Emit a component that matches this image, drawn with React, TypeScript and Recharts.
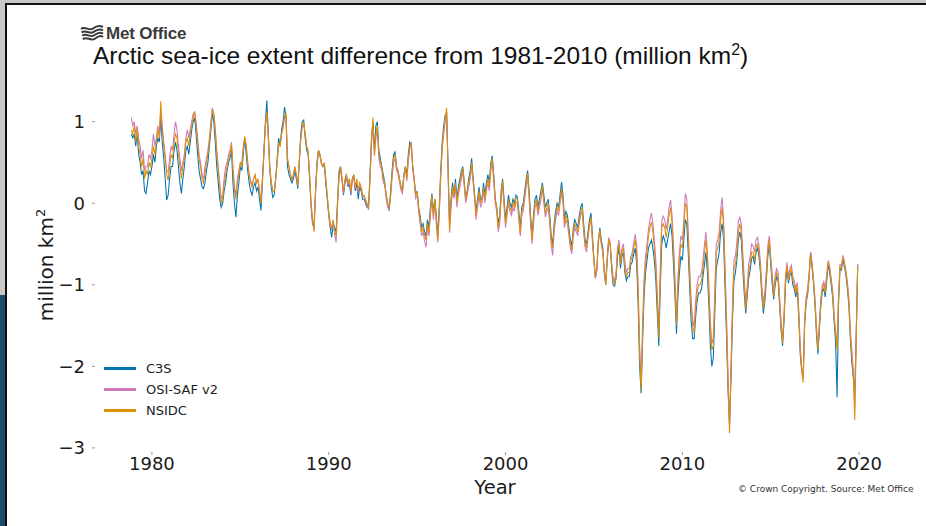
import React from 'react';
import { LineChart, Line, XAxis, YAxis } from 'recharts';

const seriesNames = ['C3S', 'OSI-SAF v2', 'NSIDC'];
const seriesKeys = ['c3s', 'osisaf', 'nsidc'];
const seriesColors = ['#0173b2', '#cc78bc', '#de8f05'];
const yearTicks = [1980, 1990, 2000, 2010, 2020];
const valueTicks = [-3, -2, -1, 0, 1];

// first month of the records: November 1978
const START_YEAR = 1978;
const START_MONTH = 10;

// monthly extent anomaly, million km2, one row per year (1978 row = Nov, Dec)
const c3s = [
  0.85, 0.80,
  0.85, 0.70, 0.85, 0.60, 0.50, 0.35, 0.40, 0.15, 0.12, 0.25, 0.40, 0.35,
  0.45, 0.60, 0.50, 0.70, 0.80, 0.75, 1.05, 0.75, 0.55, 0.30, 0.04, 0.10,
  0.30, 0.45, 0.45, 0.65, 0.75, 0.65, 0.45, 0.25, 0.12, 0.30, 0.45, 0.65,
  0.70, 0.60, 0.75, 0.90, 1.00, 1.05, 0.85, 0.60, 0.40, 0.30, 0.20, 0.18,
  0.25, 0.40, 0.50, 0.70, 0.90, 1.10, 1.00, 0.75, 0.45, 0.25, 0.05, -0.05,
  0.00, 0.15, 0.25, 0.40, 0.50, 0.55, 0.65, 0.25, 0.00, -0.17, 0.10, 0.25,
  0.45, 0.40, 0.60, 0.80, 0.60, 0.40, 0.25, 0.15, 0.10, 0.20, 0.25, 0.15,
  0.20, 0.05, -0.09, 0.25, 0.65, 1.00, 1.26, 0.85, 0.40, 0.20, 0.07, 0.10,
  0.30, 0.55, 0.80, 0.70, 0.90, 1.00, 1.18, 1.05, 0.45, 0.35, 0.30, 0.25,
  0.30, 0.40, 0.30, 0.18, 0.50, 0.85, 1.00, 1.02, 0.80, 0.65, 0.60, 0.30,
  -0.05, -0.25, -0.30, 0.15, 0.50, 0.65, 0.60, 0.50, 0.45, 0.45, 0.25, 0.05,
  -0.15, -0.30, -0.42, -0.25, -0.30, -0.35, 0.05, 0.40, 0.45, 0.30, 0.10, 0.25,
  0.35, 0.20, 0.25, 0.10, 0.30, 0.35, 0.15, 0.25, 0.05, 0.20, 0.15, 0.05,
  0.05, 0.00, -0.05, -0.05, 0.35, 0.80, 1.00, 0.65, 0.95, 1.00, 0.65, 0.55,
  0.45, 0.35, 0.25, 0.10, 0.00, -0.09, 0.15, 0.40, 0.60, 0.63, 0.45, 0.40,
  0.30, 0.20, 0.15, 0.35, 0.45, 0.35, 0.60, 0.75, 0.72, 0.45, 0.30, 0.10,
  0.15, -0.05, -0.15, -0.30, -0.25, -0.35, -0.40, -0.20, -0.30, -0.05, 0.12, -0.10,
  0.05, -0.15, -0.40, -0.05, 0.40, 0.75, 0.95, 1.08, 1.10, 0.45, -0.25, 0.05,
  0.25, 0.10, 0.30, 0.05, 0.20, 0.30, 0.40, 0.45, 0.25, 0.05, 0.15, 0.30,
  0.40, 0.55, 0.30, 0.10, -0.10, 0.05, 0.20, 0.05, 0.05, 0.25, 0.10, 0.25,
  0.35, 0.25, 0.50, 0.58, 0.35, 0.05, -0.05, -0.25, -0.15, 0.15, 0.30, 0.05,
  -0.20, -0.05, 0.10, 0.00, -0.05, 0.05, 0.00, 0.10, 0.08, -0.10, -0.30, -0.05,
  0.00, 0.15, 0.30, 0.40, 0.15, -0.15, -0.40, -0.15, 0.05, 0.10, -0.05, 0.05,
  0.15, 0.25, 0.10, -0.05, 0.00, 0.05, -0.15, -0.40, -0.50, -0.25, -0.10, 0.00,
  -0.05, 0.10, 0.26, 0.10, -0.20, -0.10, -0.15, -0.30, -0.45, -0.52, -0.30, -0.20,
  -0.25, -0.30, -0.15, -0.05, 0.00, -0.25, -0.45, -0.50, -0.35, -0.20, -0.12, -0.40,
  -0.70, -0.92, -0.80, -0.45, -0.30, -0.45, -0.55, -0.85, -1.00, -0.70, -0.45, -0.50,
  -0.80, -1.00, -1.02, -0.92, -0.65, -0.55, -0.80, -0.65, -0.60, -0.85, -0.95, -0.90,
  -0.90, -0.75, -0.72, -0.62, -0.55, -0.75, -1.25, -2.00, -2.33, -1.70, -1.15, -0.85,
  -0.70, -0.55, -0.50, -0.45, -0.55, -0.70, -0.95, -1.35, -1.75, -1.05, -0.50, -0.40,
  -0.45, -0.55, -0.45, -0.35, -0.25, -0.40, -0.75, -1.15, -1.60, -1.15, -0.85, -0.65,
  -0.70, -0.45, -0.20, -0.25, -0.60, -1.05, -1.45, -1.66, -1.66, -1.40, -1.20, -1.10,
  -1.10, -1.05, -0.90, -0.75, -0.60, -0.85, -1.25, -1.75, -2.00, -1.90, -1.35, -0.80,
  -0.70, -0.60, -0.35, -0.25, -0.45, -1.05, -1.65, -2.30, -2.72, -2.15, -1.45, -0.95,
  -0.85, -0.70, -0.45, -0.35, -0.45, -0.80, -1.10, -1.35, -1.15, -0.92, -0.82, -0.68,
  -0.65, -0.75, -0.60, -0.55, -0.65, -0.85, -1.15, -1.35, -1.20, -0.95, -0.65, -0.50,
  -0.75, -1.00, -1.18, -1.00, -0.90, -0.95, -1.25, -1.55, -1.75, -1.45, -1.00, -0.80,
  -0.98, -0.88, -0.85, -1.00, -1.05, -1.15, -1.05, -1.40, -1.85, -2.05, -2.15, -1.50,
  -1.22, -1.12, -0.92, -0.60, -0.78, -0.98, -1.25, -1.60, -1.85, -1.55, -1.25, -1.08,
  -1.05, -1.15, -0.95, -0.75, -0.85, -1.00, -1.15, -1.45, -1.70, -2.38, -1.25, -0.80,
  -0.82, -0.68, -0.78, -0.88, -1.05, -1.25, -1.65, -1.95, -2.13, -2.30, -1.60, -0.75,
];

const osisaf = [
  1.05, 0.95,
  1.00, 0.85, 0.95, 0.80, 0.70, 0.55, 0.65, 0.40, 0.45, 0.45, 0.60, 0.55,
  0.65, 0.85, 0.70, 0.80, 0.95, 0.85, 1.15, 0.95, 0.75, 0.60, 0.40, 0.38,
  0.55, 0.70, 0.65, 0.85, 1.00, 0.90, 0.70, 0.55, 0.40, 0.50, 0.60, 0.80,
  0.90, 0.80, 0.90, 1.00, 1.10, 1.12, 1.00, 0.80, 0.60, 0.50, 0.35, 0.30,
  0.45, 0.55, 0.65, 0.80, 1.00, 1.17, 1.10, 0.90, 0.65, 0.45, 0.25, 0.05,
  0.10, 0.30, 0.45, 0.50, 0.60, 0.65, 0.75, 0.45, 0.20, 0.10, 0.30, 0.40,
  0.50, 0.50, 0.70, 0.80, 0.70, 0.50, 0.35, 0.28, 0.22, 0.30, 0.35, 0.25,
  0.28, 0.15, 0.02, 0.30, 0.60, 0.95, 1.10, 0.80, 0.45, 0.25, 0.15, 0.15,
  0.30, 0.50, 0.72, 0.70, 0.85, 0.92, 1.05, 1.05, 0.55, 0.45, 0.35, 0.28,
  0.35, 0.45, 0.35, 0.22, 0.50, 0.78, 0.92, 0.98, 0.85, 0.70, 0.62, 0.35,
  0.00, -0.20, -0.33, 0.10, 0.45, 0.62, 0.58, 0.48, 0.45, 0.48, 0.30, 0.08,
  -0.12, -0.28, -0.32, -0.22, -0.38, -0.48, -0.02, 0.32, 0.42, 0.28, 0.12, 0.28,
  0.32, 0.22, 0.28, 0.12, 0.28, 0.32, 0.18, 0.28, 0.12, 0.22, 0.18, 0.08,
  0.08, 0.02, -0.02, -0.08, 0.28, 0.72, 1.00, 0.58, 0.80, 0.90, 0.55, 0.45,
  0.40, 0.25, 0.22, 0.05, -0.05, -0.08, 0.08, 0.32, 0.50, 0.55, 0.40, 0.36,
  0.26, 0.16, 0.12, 0.32, 0.42, 0.27, 0.52, 0.66, 0.72, 0.42, 0.26, 0.06,
  0.10, -0.10, -0.25, -0.40, -0.35, -0.46, -0.54, -0.30, -0.40, -0.15, 0.06, -0.20,
  0.00, -0.25, -0.48, -0.15, 0.30, 0.66, 0.85, 1.00, 1.12, 0.35, -0.36, -0.05,
  0.15, 0.06, 0.20, -0.05, 0.10, 0.20, 0.30, 0.38, 0.20, 0.00, 0.10, 0.20,
  0.30, 0.45, 0.25, 0.05, -0.20, -0.05, 0.10, -0.05, 0.00, 0.15, 0.00, 0.15,
  0.25, 0.15, 0.40, 0.50, 0.25, 0.00, -0.10, -0.35, -0.25, 0.05, 0.22, -0.05,
  -0.30, -0.15, 0.00, -0.10, -0.15, -0.05, -0.10, 0.02, 0.00, -0.20, -0.40, -0.15,
  -0.10, 0.05, 0.20, 0.32, 0.05, -0.25, -0.50, -0.25, -0.05, 0.00, -0.15, -0.05,
  0.05, 0.18, 0.00, -0.17, -0.10, -0.05, -0.25, -0.52, -0.64, -0.35, -0.20, -0.10,
  -0.15, 0.00, 0.13, 0.00, -0.30, -0.20, -0.25, -0.40, -0.55, -0.62, -0.40, -0.30,
  -0.35, -0.40, -0.25, -0.15, -0.10, -0.35, -0.55, -0.60, -0.42, -0.28, -0.20, -0.48,
  -0.72, -0.92, -0.82, -0.48, -0.35, -0.50, -0.60, -0.82, -0.95, -0.65, -0.42, -0.48,
  -0.72, -0.90, -0.95, -0.85, -0.55, -0.45, -0.70, -0.55, -0.50, -0.72, -0.85, -0.80,
  -0.80, -0.65, -0.60, -0.48, -0.38, -0.52, -1.00, -1.75, -2.20, -1.50, -0.92, -0.65,
  -0.50, -0.32, -0.20, -0.12, -0.25, -0.45, -0.70, -1.10, -1.55, -0.80, -0.22, -0.16,
  -0.20, -0.32, -0.20, -0.05, 0.04, -0.15, -0.50, -0.92, -1.42, -0.90, -0.60, -0.40,
  -0.45, -0.20, 0.12, 0.05, -0.35, -0.80, -1.20, -1.42, -1.52, -1.20, -1.00, -0.90,
  -0.90, -0.85, -0.70, -0.50, -0.35, -0.60, -1.00, -1.45, -1.72, -1.65, -1.10, -0.50,
  -0.45, -0.35, -0.08, 0.07, -0.20, -0.80, -1.40, -2.10, -2.72, -2.00, -1.25, -0.70,
  -0.65, -0.48, -0.22, -0.17, -0.25, -0.60, -0.92, -1.22, -1.02, -0.75, -0.65, -0.50,
  -0.52, -0.60, -0.45, -0.42, -0.52, -0.72, -1.02, -1.22, -1.08, -0.82, -0.52, -0.40,
  -0.65, -0.88, -1.08, -0.88, -0.80, -0.85, -1.15, -1.45, -1.68, -1.35, -0.90, -0.72,
  -0.90, -0.80, -0.76, -0.90, -0.95, -1.05, -0.97, -1.30, -1.75, -2.00, -2.15, -1.40,
  -1.15, -1.05, -0.86, -0.60, -0.72, -0.92, -1.16, -1.50, -1.76, -1.46, -1.16, -1.00,
  -0.96, -1.05, -0.86, -0.70, -0.78, -0.92, -1.06, -1.36, -1.56, -1.74, -1.12, -0.75,
  -0.76, -0.64, -0.72, -0.82, -0.96, -1.16, -1.55, -1.80, -2.05, -2.50, -1.62, -0.75,
];

const nsidc = [
  0.90, 0.85,
  0.95, 0.75, 0.90, 0.70, 0.60, 0.45, 0.55, 0.30, 0.40, 0.35, 0.50, 0.45,
  0.55, 0.70, 0.60, 0.75, 0.90, 0.80, 1.25, 0.90, 0.70, 0.55, 0.35, 0.28,
  0.45, 0.60, 0.55, 0.75, 0.85, 0.80, 0.60, 0.45, 0.30, 0.45, 0.55, 0.75,
  0.80, 0.70, 0.85, 0.95, 1.05, 1.12, 0.95, 0.75, 0.55, 0.45, 0.30, 0.25,
  0.35, 0.50, 0.60, 0.75, 0.95, 1.15, 1.10, 0.90, 0.60, 0.40, 0.20, 0.00,
  0.05, 0.25, 0.35, 0.45, 0.55, 0.60, 0.72, 0.40, 0.15, 0.05, 0.25, 0.35,
  0.50, 0.45, 0.65, 0.82, 0.70, 0.50, 0.35, 0.25, 0.20, 0.30, 0.35, 0.25,
  0.30, 0.15, 0.00, 0.30, 0.60, 0.95, 1.12, 0.80, 0.45, 0.25, 0.15, 0.15,
  0.30, 0.50, 0.75, 0.70, 0.85, 0.95, 1.08, 1.10, 0.55, 0.45, 0.35, 0.28,
  0.35, 0.45, 0.35, 0.22, 0.50, 0.80, 0.95, 1.00, 0.85, 0.70, 0.65, 0.35,
  0.00, -0.20, -0.35, 0.10, 0.45, 0.65, 0.60, 0.50, 0.45, 0.50, 0.30, 0.10,
  -0.10, -0.25, -0.30, -0.20, -0.35, -0.40, 0.00, 0.35, 0.45, 0.30, 0.15, 0.30,
  0.35, 0.25, 0.30, 0.15, 0.30, 0.35, 0.20, 0.30, 0.15, 0.25, 0.20, 0.10,
  0.10, 0.05, 0.00, -0.05, 0.30, 0.75, 1.05, 0.60, 0.85, 0.95, 0.60, 0.50,
  0.45, 0.30, 0.25, 0.10, 0.00, -0.05, 0.10, 0.35, 0.55, 0.60, 0.45, 0.40,
  0.30, 0.20, 0.15, 0.35, 0.45, 0.30, 0.55, 0.70, 0.75, 0.45, 0.30, 0.10,
  0.15, -0.05, -0.20, -0.35, -0.30, -0.40, -0.45, -0.25, -0.35, -0.10, 0.10, -0.15,
  0.05, -0.20, -0.45, -0.10, 0.35, 0.70, 0.88, 1.05, 1.17, 0.40, -0.33, 0.00,
  0.20, 0.10, 0.25, 0.00, 0.15, 0.25, 0.35, 0.43, 0.25, 0.05, 0.15, 0.25,
  0.35, 0.50, 0.30, 0.10, -0.15, 0.00, 0.15, 0.00, 0.05, 0.20, 0.05, 0.20,
  0.30, 0.20, 0.45, 0.55, 0.30, 0.05, -0.05, -0.30, -0.20, 0.10, 0.28, 0.00,
  -0.25, -0.10, 0.05, -0.05, -0.10, 0.00, -0.05, 0.07, 0.05, -0.15, -0.37, -0.10,
  -0.05, 0.10, 0.25, 0.37, 0.10, -0.20, -0.45, -0.20, 0.00, 0.05, -0.10, 0.00,
  0.10, 0.22, 0.05, -0.12, -0.05, 0.00, -0.20, -0.45, -0.55, -0.30, -0.15, -0.05,
  -0.10, 0.05, 0.18, 0.05, -0.25, -0.15, -0.20, -0.35, -0.50, -0.58, -0.35, -0.25,
  -0.30, -0.35, -0.20, -0.10, -0.05, -0.30, -0.50, -0.55, -0.40, -0.25, -0.17, -0.45,
  -0.70, -0.90, -0.80, -0.45, -0.33, -0.50, -0.60, -0.85, -1.00, -0.70, -0.45, -0.50,
  -0.75, -0.95, -1.00, -0.90, -0.60, -0.50, -0.75, -0.60, -0.55, -0.80, -0.90, -0.85,
  -0.85, -0.70, -0.65, -0.55, -0.45, -0.60, -1.10, -1.85, -2.30, -1.60, -1.00, -0.75,
  -0.60, -0.40, -0.30, -0.23, -0.35, -0.55, -0.80, -1.20, -1.65, -0.90, -0.30, -0.25,
  -0.30, -0.42, -0.30, -0.15, -0.05, -0.25, -0.60, -1.00, -1.50, -1.00, -0.70, -0.50,
  -0.55, -0.30, 0.00, -0.05, -0.45, -0.90, -1.30, -1.50, -1.60, -1.30, -1.10, -1.00,
  -1.00, -0.95, -0.80, -0.60, -0.45, -0.70, -1.10, -1.55, -1.80, -1.75, -1.20, -0.60,
  -0.55, -0.45, -0.20, -0.05, -0.30, -0.90, -1.50, -2.20, -2.82, -2.10, -1.35, -0.80,
  -0.75, -0.60, -0.35, -0.25, -0.35, -0.70, -1.00, -1.30, -1.10, -0.85, -0.75, -0.60,
  -0.60, -0.70, -0.55, -0.49, -0.60, -0.80, -1.10, -1.30, -1.15, -0.90, -0.60, -0.45,
  -0.70, -0.95, -1.15, -0.95, -0.85, -0.90, -1.20, -1.50, -1.72, -1.40, -0.95, -0.76,
  -0.95, -0.85, -0.80, -0.95, -1.00, -1.10, -1.00, -1.35, -1.80, -2.05, -2.20, -1.45,
  -1.20, -1.10, -0.90, -0.62, -0.75, -0.95, -1.20, -1.55, -1.80, -1.50, -1.20, -1.05,
  -1.00, -1.10, -0.90, -0.72, -0.80, -0.95, -1.10, -1.40, -1.60, -1.80, -1.15, -0.78,
  -0.80, -0.66, -0.75, -0.85, -1.00, -1.20, -1.60, -1.85, -2.10, -2.66, -1.70, -0.76,
];

const rows = nsidc.map((v, i) => ({
  t: START_YEAR + (START_MONTH + i) / 12,
  c3s: c3s[i],
  osisaf: osisaf[i],
  nsidc: v,
}));

const minus = (v: number) => String(v).replace('-', '\u2212');
const tickFont = { fontSize: 18, fill: '#1a1a1a', fontFamily: 'DejaVu Sans' };

function MetOfficeLogo() {
  return (
    <div style={{ position: 'absolute', left: 80, top: 24, display: 'flex', alignItems: 'center' }}>
      <svg width={24} height={18} viewBox="0 0 24 18">
        {[0, 1, 2, 3].map((k) => (
          <path
            key={k}
            d={`M${1 + k * 0.6} ${4 + k * 3.4} C${5 + k * 0.6} ${0.5 + k * 3.4}, ${9 + k * 0.6} ${6.5 + k * 3.4}, ${13 + k * 0.6} ${3.5 + k * 3.4} S${20 + k * 0.6} ${0.5 + k * 3.4}, ${23} ${2 + k * 3.4}`}
            fill="none"
            stroke="#3a3a3a"
            strokeWidth={2}
          />
        ))}
      </svg>
      <span
        style={{
          marginLeft: 2,
          fontFamily: 'Liberation Sans, Arial, sans-serif',
          fontWeight: 700,
          fontSize: 17,
          color: '#3a3a3a',
          letterSpacing: -0.2,
        }}
      >
        Met Office
      </span>
    </div>
  );
}

export default function App() {
  return (
    <div style={{ position: 'relative', width: 926, height: 526, background: '#fff', overflow: 'hidden' }}>
      <style>{'body{margin:0}'}</style>

      {/* frame of the screenshot */}
      <div style={{ position: 'absolute', left: 0, top: 0, width: 926, height: 3, background: '#c9c9c9' }} />
      <div style={{ position: 'absolute', left: 0, top: 0, width: 5, height: 295, background: '#c9c9c9' }} />
      <div style={{ position: 'absolute', left: 0, top: 295, width: 6, height: 231, background: '#1d4b6b' }} />
      <div style={{ position: 'absolute', left: 5, top: 3, width: 921, height: 2, background: '#111' }} />
      <div style={{ position: 'absolute', left: 5, top: 3, width: 2, height: 523, background: '#111' }} />

      <MetOfficeLogo />
      <div
        style={{
          position: 'absolute',
          left: 93,
          top: 42,
          fontFamily: 'Liberation Sans, Arial, sans-serif',
          fontSize: 24.5,
          color: '#111',
          whiteSpace: 'nowrap',
        }}
      >
        Arctic sea-ice extent difference from 1981-2010 (million km
        <sup style={{ fontSize: 16, lineHeight: 0 }}>2</sup>)
      </div>

      <LineChart
        width={926}
        height={526}
        data={rows}
        margin={{ top: 85, right: 32, bottom: 44, left: 35 }}
        style={{ position: 'absolute', left: 0, top: 0 }}
      >
        <XAxis
          dataKey="t"
          type="number"
          domain={[1976.78, 2021.97]}
          ticks={yearTicks}
          height={30}
          axisLine={false}
          tickLine={{ stroke: '#999' }}
          tickSize={3}
          tick={tickFont}
        />
        <YAxis
          type="number"
          domain={[-3.05, 1.45]}
          ticks={valueTicks}
          width={60}
          axisLine={false}
          tickLine={{ stroke: '#999' }}
          tickSize={3}
          tickMargin={7}
          tick={tickFont}
          tickFormatter={minus}
        />
        {seriesKeys.map((k, i) => (
          <Line
            key={k}
            dataKey={k}
            type="linear"
            stroke={seriesColors[i]}
            strokeWidth={1.05}
            dot={false}
            isAnimationActive={false}
          />
        ))}
      </LineChart>

      <div
        style={{
          position: 'absolute',
          left: 46,
          top: 265,
          transform: 'translate(-50%, -50%) rotate(-90deg)',
          fontFamily: 'DejaVu Sans',
          fontSize: 20,
          color: '#1a1a1a',
          whiteSpace: 'nowrap',
        }}
      >
        million km<sup style={{ fontSize: 13, lineHeight: 0 }}>2</sup>
      </div>

      <div
        style={{
          position: 'absolute',
          left: 495,
          top: 487,
          transform: 'translate(-50%, -50%)',
          fontFamily: 'DejaVu Sans',
          fontSize: 19.5,
          color: '#1a1a1a',
        }}
      >
        Year
      </div>

      <div style={{ position: 'absolute', left: 104, top: 358 }}>
        {seriesNames.map((name, i) => (
          <div key={name} style={{ display: 'flex', alignItems: 'center', height: 21 }}>
            <div style={{ width: 32, height: 3, background: seriesColors[i] }} />
            <span style={{ marginLeft: 10, fontFamily: 'DejaVu Sans', fontSize: 13, color: '#222' }}>{name}</span>
          </div>
        ))}
      </div>

      <div
        style={{
          position: 'absolute',
          left: 738,
          top: 484,
          fontFamily: 'DejaVu Sans',
          fontSize: 9,
          color: '#333',
          whiteSpace: 'nowrap',
        }}
      >
        © Crown Copyright. Source: Met Office
      </div>
    </div>
  );
}
